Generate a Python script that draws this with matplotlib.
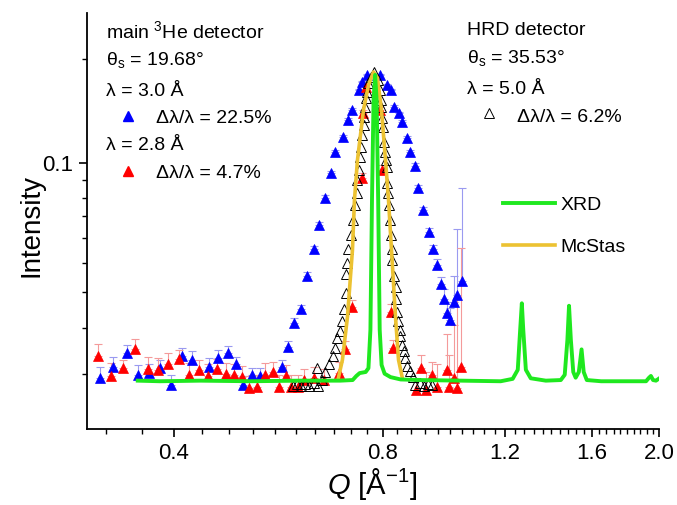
import numpy as np
import matplotlib
matplotlib.use("Agg")
import matplotlib.pyplot as plt
from matplotlib.ticker import FixedLocator, FixedFormatter, NullFormatter
from matplotlib.lines import Line2D

plt.rcParams['font.family'] = ['Liberation Sans', 'DejaVu Sans']
plt.rcParams['mathtext.fontset'] = 'custom'
plt.rcParams['mathtext.rm'] = 'Liberation Sans'
plt.rcParams['mathtext.it'] = 'Liberation Sans:italic'

# main 3He detector, lambda = 3.0 A, dl/l = 22.5 %
q_blue = [0.313, 0.327, 0.342, 0.355, 0.368, 0.382, 0.396, 0.411, 0.425, 0.450,
          0.464, 0.479, 0.492, 0.504, 0.519, 0.533, 0.572, 0.584, 0.597, 0.610,
          0.622, 0.636, 0.648, 0.661, 0.673, 0.684, 0.702, 0.712, 0.723, 0.739,
          0.748, 0.760, 0.794, 0.812, 0.821, 0.830, 0.844, 0.853, 0.867, 0.877,
          0.889, 0.900, 0.913, 0.932, 0.944, 0.957, 0.969, 0.980, 0.991, 1.000,
          1.013, 1.022, 1.042]
i_blue = [0.0193, 0.0214, 0.0241, 0.0199, 0.0202, 0.0211, 0.0182, 0.0234, 0.0227, 0.0214,
          0.0230, 0.0241, 0.0218, 0.0182, 0.0199, 0.0197, 0.0214, 0.0254, 0.0313, 0.0348,
          0.0451, 0.0552, 0.0658, 0.0799, 0.0940, 0.1078, 0.1193, 0.1334, 0.1425, 0.1627,
          0.1716, 0.1798, 0.1798, 0.1683, 0.1627, 0.1458, 0.1396, 0.1315, 0.1183, 0.1078,
          0.0986, 0.0855, 0.0733, 0.0628, 0.0552, 0.0492, 0.0423, 0.0377, 0.0339, 0.0321,
          0.0368, 0.0391, 0.0435]
e_blue = [0.0020, 0.0018, 0.0018, 0.0018, 0.0016, 0.0015, 0.0017, 0.0018, 0.0018, 0.0017,
          0.0017, 0.0015, 0.0014, 0.0015, 0.0012, 0.0015, 0.0013, 0.0013, 0.0011, 0.0011,
          0.0016, 0.0015, 0.0015, 0.0015, 0.0015, 0.0015, 0.0015, 0.0015, 0.0015, 0.0015,
          0.0015, 0.0015, 0.0015, 0.0015, 0.0015, 0.0015, 0.0015, 0.0015, 0.0015, 0.0015,
          0.0015, 0.0015, 0.0015, 0.0015, 0.0020, 0.0023, 0.0025, 0.0030, 0.0030, 0.0030,
          0.0083, 0.0247, 0.0416]

# main 3He detector, lambda = 2.8 A, dl/l = 4.7 %
q_red = [0.311, 0.325, 0.338, 0.352, 0.367, 0.380, 0.393, 0.407, 0.421, 0.435,
         0.448, 0.461, 0.475, 0.488, 0.502, 0.514, 0.528, 0.542, 0.556, 0.568,
         0.581, 0.590, 0.605, 0.617, 0.636, 0.658, 0.691, 0.707, 0.723, 0.747,
         0.750, 0.758, 0.794, 0.799, 0.821, 0.828, 0.892, 0.907, 0.922, 0.943,
         0.959, 0.991, 0.997, 1.013, 1.025, 1.036]
i_red = [0.0234, 0.0197, 0.0211, 0.0249, 0.0209, 0.0208, 0.0219, 0.0229, 0.0199, 0.0208,
         0.0197, 0.0209, 0.0200, 0.0198, 0.0196, 0.0177, 0.0179, 0.0199, 0.0204, 0.0178,
         0.0197, 0.0179, 0.0178, 0.0190, 0.0193, 0.0190, 0.0202, 0.0249, 0.0354, 0.0910,
         0.1394, 0.1663, 0.1425, 0.0960, 0.0342, 0.0251, 0.0174, 0.0211, 0.0174, 0.0199,
         0.0179, 0.0208, 0.0179, 0.0193, 0.0177, 0.0214]
e_red = [0.0027, 0.0024, 0.0016, 0.0025, 0.0023, 0.0023, 0.0022, 0.0018, 0.0022, 0.0019,
         0.0021, 0.0020, 0.0021, 0.0020, 0.0020, 0.0020, 0.0020, 0.0022, 0.0018, 0.0020,
         0.0020, 0.0020, 0.0020, 0.0020, 0.0020, 0.0020, 0.0020, 0.0020, 0.0020, 0.0030,
         0.0030, 0.0030, 0.0030, 0.0030, 0.0020, 0.0020, 0.0020, 0.0025, 0.0030, 0.0024,
         0.0040, 0.0078, 0.0058, 0.0114, 0.0200, 0.0346]

# HRD detector, lambda = 5.0 A, dl/l = 6.2 %
q_hrd = [0.5947, 0.6027, 0.6108, 0.6189, 0.6272, 0.6360, 0.6435, 0.6462, 0.6549, 0.6616,
         0.6690, 0.6794, 0.6840, 0.6881, 0.6954, 0.6990, 0.7024, 0.7071, 0.7083, 0.7110,
         0.7130, 0.7189, 0.7237, 0.7285, 0.7351, 0.7355, 0.7383, 0.7408, 0.7432, 0.7474,
         0.7506, 0.7510, 0.7531, 0.7557, 0.7581, 0.7607, 0.7683, 0.7759, 0.7871, 0.7924,
         0.7942, 0.7960, 0.7987, 0.8013, 0.8030, 0.8049, 0.8076, 0.8102, 0.8121, 0.8137,
         0.8155, 0.8182, 0.8209, 0.8237, 0.8256, 0.8299, 0.8347, 0.8350, 0.8393, 0.8421,
         0.8466, 0.8485, 0.8533, 0.8578, 0.8625, 0.8674, 0.8770, 0.8849, 0.8916, 0.9041,
         0.9162, 0.9285, 0.9409]
i_hrd = [0.0180, 0.0184, 0.0180, 0.0184, 0.0180, 0.0185, 0.0211, 0.0180, 0.0190, 0.0204,
         0.0219, 0.0235, 0.0253, 0.0275, 0.0292, 0.0318, 0.0350, 0.0396, 0.0458, 0.0500,
         0.0552, 0.0615, 0.0682, 0.0760, 0.0827, 0.0900, 0.0960, 0.1043, 0.1115, 0.1207,
         0.1290, 0.1360, 0.1454, 0.1543, 0.1606, 0.1705, 0.1776, 0.1835, 0.1740, 0.1627,
         0.1523, 0.1454, 0.1351, 0.1273, 0.1152, 0.1078, 0.1022, 0.0978, 0.0884, 0.0827,
         0.0760, 0.0682, 0.0615, 0.0552, 0.0511, 0.0451, 0.0416, 0.0377, 0.0342, 0.0317,
         0.0296, 0.0279, 0.0259, 0.0246, 0.0231, 0.0216, 0.0205, 0.0195, 0.0182, 0.0185,
         0.0180, 0.0184, 0.0182]

# XRD pattern
q_xrd = [0.355, 0.382, 0.437, 0.516, 0.609, 0.695, 0.724, 0.733, 0.741, 0.756,
         0.763, 0.768, 0.772, 0.776, 0.780, 0.784, 0.788, 0.792, 0.797, 0.805,
         0.821, 0.849, 0.907, 1.036, 1.183, 1.231, 1.252, 1.262, 1.269, 1.275,
         1.286, 1.307, 1.374, 1.444, 1.463, 1.476, 1.484, 1.493, 1.505, 1.517,
         1.533, 1.547, 1.558, 1.574, 1.651, 1.916, 1.935, 1.947, 1.961, 1.980,
         1.997]
i_xrd = [0.0189, 0.0188, 0.0189, 0.0188, 0.0189, 0.0189, 0.0190, 0.0197, 0.0202, 0.0204,
         0.0211, 0.0296, 0.0787, 0.1523, 0.1800, 0.1523, 0.0787, 0.0296, 0.0217, 0.0201,
         0.0195, 0.0191, 0.0190, 0.0189, 0.0188, 0.0192, 0.0208, 0.0296, 0.0365, 0.0296,
         0.0208, 0.0193, 0.0189, 0.0190, 0.0199, 0.0271, 0.0358, 0.0271, 0.0204, 0.0194,
         0.0204, 0.0249, 0.0204, 0.0190, 0.0188, 0.0188, 0.0194, 0.0197, 0.0190, 0.0189,
         0.0192]

# McStas simulation
q_mc = [0.6907, 0.6999, 0.7117, 0.7236, 0.7284, 0.7357, 0.7505, 0.7631, 0.7759,
        0.7862, 0.7967, 0.8074, 0.8155, 0.8236, 0.8346, 0.8430, 0.8543]
i_mc = [0.0194, 0.0227, 0.0328, 0.0550, 0.0787, 0.1022, 0.1425, 0.1683, 0.1835,
        0.1763, 0.1425, 0.1022, 0.0787, 0.0550, 0.0328, 0.0227, 0.0192]

# the intensity axis of the original is a stretched log axis:
# tick values and where they sit (pixels above the x axis)
scale_vals = np.log10([0.02, 0.03, 0.04, 0.05, 0.06, 0.07, 0.08, 0.09, 0.1, 0.2])
scale_pos = np.array([54.7, 100.7, 137.3, 166.3, 190.7, 213.0, 231.3, 249.0, 265.7, 370.0])
s_lo = (scale_pos[1] - scale_pos[0]) / (scale_vals[1] - scale_vals[0])
s_hi = (scale_pos[-1] - scale_pos[-2]) / (scale_vals[-1] - scale_vals[-2])


def fwd(v):
    v = np.asarray(v, dtype=float)
    lv = np.log10(np.where(v > 0, v, 1e-9))
    u = np.interp(lv, scale_vals, scale_pos)
    u = np.where(lv < scale_vals[0], scale_pos[0] + (lv - scale_vals[0]) * s_lo, u)
    u = np.where(lv > scale_vals[-1], scale_pos[-1] + (lv - scale_vals[-1]) * s_hi, u)
    return u


def inv(u):
    u = np.asarray(u, dtype=float)
    lv = np.interp(u, scale_pos, scale_vals)
    lv = np.where(u < scale_pos[0], scale_vals[0] + (u - scale_pos[0]) / s_lo, lv)
    lv = np.where(u > scale_pos[-1], scale_vals[-1] + (u - scale_pos[-1]) / s_hi, lv)
    return 10 ** lv


fig = plt.figure(figsize=(6.77, 5.05), dpi=100)
ax = fig.add_axes([87 / 677, 76 / 505, 572 / 677, 416 / 505])
ax.set_xscale('log')
ax.set_yscale('function', functions=(fwd, inv))

blue = '#0000ff'
red = '#ff0000'

ax.errorbar(q_blue, i_blue, yerr=[np.zeros(len(e_blue)), e_blue], fmt='none',
            ecolor='#9a9af0', elinewidth=0.8, capsize=3, capthick=0.8, zorder=1)
ax.errorbar(q_red, i_red, yerr=[np.zeros(len(e_red)), e_red], fmt='none',
            ecolor='#f49a9a', elinewidth=0.8, capsize=3, capthick=0.8, zorder=1)
ax.plot(q_blue, i_blue, '^', color=blue, ms=7.8, mec=blue, mew=0.5, zorder=2)
ax.plot(q_red, i_red, '^', color=red, ms=7.8, mec=red, mew=0.5, zorder=2)
ax.plot(q_hrd, i_hrd, '^', mfc='none', mec='black', ms=7.5, mew=0.7, zorder=3)
l_mc, = ax.plot(q_mc, i_mc, '-', color='#ecc232', lw=2.6, zorder=4)
l_xrd, = ax.plot(q_xrd, i_xrd, '-', color='#1fe81f', lw=2.8, zorder=5)

ax.set_xlim(0.30, 2.0)
ax.set_ylim(0.01234, 0.2716)

ax.xaxis.set_major_locator(FixedLocator([0.4, 0.8, 1.2, 1.6, 2.0]))
ax.xaxis.set_major_formatter(FixedFormatter(['0.4', '0.8', '1.2', '1.6', '2.0']))
ax.xaxis.set_minor_locator(FixedLocator([round(v, 2) for v in np.arange(0.32, 2.0, 0.04)
                                         if round(v, 2) not in (0.4, 0.8, 1.2, 1.6)]))
ax.xaxis.set_minor_formatter(NullFormatter())
ax.yaxis.set_major_locator(FixedLocator([0.1]))
ax.yaxis.set_major_formatter(FixedFormatter(['0.1']))
ax.yaxis.set_minor_locator(FixedLocator([0.02, 0.03, 0.04, 0.05, 0.06, 0.07, 0.08, 0.09, 0.2]))
ax.yaxis.set_minor_formatter(NullFormatter())

for s in ['top', 'right']:
    ax.spines[s].set_visible(False)
for s in ['left', 'bottom']:
    ax.spines[s].set_linewidth(1.3)
ax.tick_params(which='major', length=6, width=1.2, labelsize=16, pad=4, direction='out')
ax.tick_params(which='minor', length=3.5, width=1.0, direction='out')

ax.set_ylabel('Intensity', fontsize=20)
ax.yaxis.set_label_coords(-0.074, 0.49)
ax.set_xlabel('$Q$ [Å$^{-1}$]', fontsize=21)
ax.xaxis.set_label_coords(0.498, -0.09)

# annotation blocks
fs = 14
tr = ax.transAxes
ax.text(0.0332, 0.9406, 'main $^{3}$He detector', fontsize=fs, transform=tr)
ax.text(0.0332, 0.875, 'θ$_{\\mathrm{s}}$ = 19.68°', fontsize=fs, transform=tr)
ax.text(0.0332, 0.8005, 'λ = 3.0 Å', fontsize=fs, transform=tr)
ax.text(0.1206, 0.7348, 'Δλ/λ = 22.5%', fontsize=fs, transform=tr)
ax.text(0.0332, 0.6707, 'λ = 2.8 Å', fontsize=fs, transform=tr)
ax.text(0.1206, 0.6026, 'Δλ/λ = 4.7%', fontsize=fs, transform=tr)
ax.add_line(Line2D([0.0722], [0.7524], marker='^', color=blue, ms=7.8, transform=tr))
ax.add_line(Line2D([0.0722], [0.6209], marker='^', color=red, ms=7.8, transform=tr))

ax.text(0.6638, 0.9471, 'HRD detector', fontsize=fs, transform=tr)
ax.text(0.6638, 0.8805, 'θ$_{\\mathrm{s}}$ = 35.53°', fontsize=fs, transform=tr)
ax.text(0.6638, 0.8053, 'λ = 5.0 Å', fontsize=fs, transform=tr)
ax.text(0.7512, 0.7387, 'Δλ/λ = 6.2%', fontsize=fs, transform=tr)
ax.add_line(Line2D([0.7028], [0.7589], marker='^', mfc='none', mec='black', mew=0.7,
                   ms=7.5, transform=tr))

ax.legend([l_xrd, l_mc], ['XRD', 'McStas'], loc='upper left', bbox_to_anchor=(0.7273, 0.560),
          frameon=False, fontsize=fs, handlelength=2.68, handletextpad=0.26,
          labelspacing=1.26, borderpad=0, borderaxespad=0)

fig.savefig('out.png', dpi=100)
